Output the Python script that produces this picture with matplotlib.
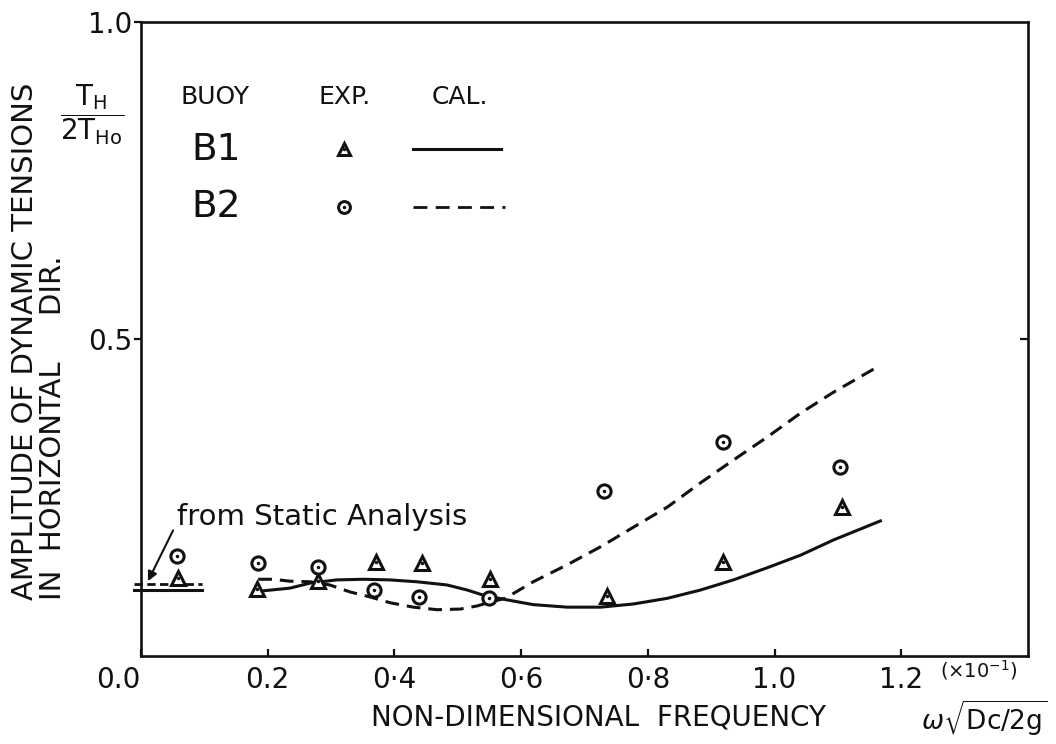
import matplotlib
matplotlib.use('Agg')
import matplotlib.pyplot as plt

plt.rcParams['font.family'] = ['DejaVu Sans']
plt.rcParams['mathtext.fontset'] = 'dejavusans'

# measured amplitudes (EXP.)
b1_freq = [0.058, 0.183, 0.280, 0.371, 0.444, 0.551, 0.735, 0.919, 1.106]
b1_amp = [0.123, 0.106, 0.118, 0.148, 0.147, 0.121, 0.095, 0.148, 0.235]
b2_freq = [0.057, 0.185, 0.280, 0.367, 0.439, 0.550, 0.730, 0.918, 1.104]
b2_amp = [0.157, 0.147, 0.140, 0.104, 0.093, 0.091, 0.260, 0.338, 0.298]

# calculated curves (CAL.)
b1_cal_freq = [0.195, 0.235, 0.267, 0.309, 0.351, 0.393, 0.436, 0.483, 0.515,
               0.540, 0.575, 0.619, 0.673, 0.725, 0.777, 0.831, 0.883, 0.935,
               0.988, 1.041, 1.093, 1.167]
b1_cal_amp = [0.103, 0.107, 0.115, 0.120, 0.121, 0.120, 0.117, 0.112, 0.104,
              0.096, 0.089, 0.081, 0.077, 0.077, 0.082, 0.091, 0.104, 0.120,
              0.139, 0.159, 0.183, 0.213]
b2_cal_freq = [0.185, 0.208, 0.235, 0.267, 0.298, 0.330, 0.362, 0.393, 0.430,
               0.467, 0.504, 0.531, 0.551, 0.575, 0.619, 0.673, 0.725, 0.777,
               0.831, 0.883, 0.935, 0.988, 1.041, 1.093, 1.159]
b2_cal_amp = [0.121, 0.121, 0.118, 0.117, 0.112, 0.101, 0.093, 0.084, 0.077,
              0.073, 0.074, 0.079, 0.085, 0.091, 0.117, 0.144, 0.172, 0.203,
              0.235, 0.273, 0.309, 0.345, 0.383, 0.416, 0.454]

# static analysis levels
static_freq = [-0.011, 0.097]
static_b1 = [0.104, 0.104]
static_b2 = [0.113, 0.113]

xticks = [0.0, 0.2, 0.4, 0.6, 0.8, 1.0, 1.2]
xticklabels = ['0.0', '0.2', '0\u00b74', '0\u00b76', '0\u00b78', '1.0', '1.2']
yticks = [0.5, 1.0]
yticklabels = ['0.5', '1.0']

ink = '#111111'
dash = (0, (4.5, 2.6))

fig = plt.figure(figsize=(10.56, 7.44), dpi=100)
ax = fig.add_axes([0.1335, 0.1183, 0.8400, 0.8522])
ax.set_xlim(0, 1.40)
ax.set_ylim(0, 1.0)

for s in ax.spines.values():
    s.set_linewidth(1.9)
    s.set_color(ink)

ax.plot(b1_cal_freq, b1_cal_amp, '-', color=ink, lw=2.2, zorder=3)
ax.plot(b2_cal_freq, b2_cal_amp, linestyle=dash, color=ink, lw=2.2, zorder=3)

ax.plot(static_freq, static_b1, '-', color=ink, lw=2.2, clip_on=False, zorder=3)
ax.plot(static_freq, static_b2, linestyle=(0, (3, 1.6)), color=ink, lw=2.0,
        clip_on=False, zorder=3)

mk = dict(linestyle='none', mfc='white', mec=ink, mew=2.2, zorder=4)
ax.plot(b1_freq, b1_amp, marker='^', ms=10, **mk)
ax.plot(b2_freq, b2_amp, marker='o', ms=9.5, **mk)
ax.plot(b1_freq, b1_amp, '.', color=ink, ms=3, zorder=5)
ax.plot(b2_freq, b2_amp, '.', color=ink, ms=3, zorder=5)

ax.annotate('from Static Analysis', xy=(0.011, 0.118), xytext=(0.057, 0.207),
            fontsize=21, color=ink, ha='left', va='baseline',
            arrowprops=dict(arrowstyle='-|>', color=ink, lw=1.5,
                            mutation_scale=14, shrinkA=2, shrinkB=0,
                            relpos=(0.0, 0.3)))

# ticks
ax.set_xticks(xticks)
ax.set_xticklabels(xticklabels)
ax.get_xticklabels()[0].set_horizontalalignment('right')
ax.tick_params(axis='x', direction='in', length=5, width=1.6, pad=7,
               labelsize=20, colors=ink)
ax.set_yticks(yticks)
ax.set_yticklabels(yticklabels)
ax.tick_params(axis='y', direction='out', length=5, width=1.6, pad=1,
               labelsize=20, colors=ink)

ax2 = ax.twinx()
ax2.set_ylim(0, 1.0)
ax2.set_yticks([0.5])
ax2.tick_params(axis='y', direction='in', length=6, width=1.6,
                labelright=False, colors=ink)
for s in ax2.spines.values():
    s.set_visible(False)

# legend table
tr = ax.transAxes
ax.text(0.083, 0.882, 'BUOY', transform=tr, fontsize=18, ha='center', va='center', color=ink)
ax.text(0.230, 0.882, 'EXP.', transform=tr, fontsize=18, ha='center', va='center', color=ink)
ax.text(0.360, 0.882, 'CAL.', transform=tr, fontsize=18, ha='center', va='center', color=ink)
ax.text(0.085, 0.798, 'B1', transform=tr, fontsize=27, ha='center', va='center', color=ink)
ax.text(0.085, 0.708, 'B2', transform=tr, fontsize=27, ha='center', va='center', color=ink)
ax.plot([0.229], [0.800], transform=tr, marker='^', ms=9, **mk)
ax.plot([0.229], [0.800], '.', transform=tr, color=ink, ms=3, zorder=5)
ax.plot([0.229], [0.708], transform=tr, marker='o', ms=8.5, **mk)
ax.plot([0.229], [0.708], '.', transform=tr, color=ink, ms=3, zorder=5)
ax.plot([0.307, 0.406], [0.800, 0.800], '-', transform=tr, color=ink, lw=2.2)
ax.plot([0.307, 0.410], [0.708, 0.708], linestyle=(0, (5, 3)), transform=tr,
        color=ink, lw=2.0)

# axis titles
fig.text(0.0235, 0.1935, 'AMPLITUDE OF DYNAMIC TENSIONS', rotation=90,
         rotation_mode='anchor', ha='left', va='center', fontsize=21, color=ink)
fig.text(0.0505, 0.1935, 'IN  HORIZONTAL     DIR.', rotation=90,
         rotation_mode='anchor', ha='left', va='center', fontsize=21, color=ink)
fig.text(0.0871, 0.8454, r'$\dfrac{\mathrm{T_H}}{\mathrm{2T_{Ho}}}$',
         ha='center', va='center', fontsize=20, color=ink)

fig.text(0.567, 0.035, 'NON-DIMENSIONAL  FREQUENCY', ha='center', va='center',
         fontsize=20, color=ink)
fig.text(0.932, 0.035, r'$\omega\sqrt{\mathrm{Dc/2g}}$', ha='center',
         va='center', fontsize=19, color=ink)
fig.text(0.927, 0.0995, r'$(\times10^{-1})$', ha='center', va='center',
         fontsize=14, color=ink)

fig.savefig('out.png', dpi=100, facecolor='white')
